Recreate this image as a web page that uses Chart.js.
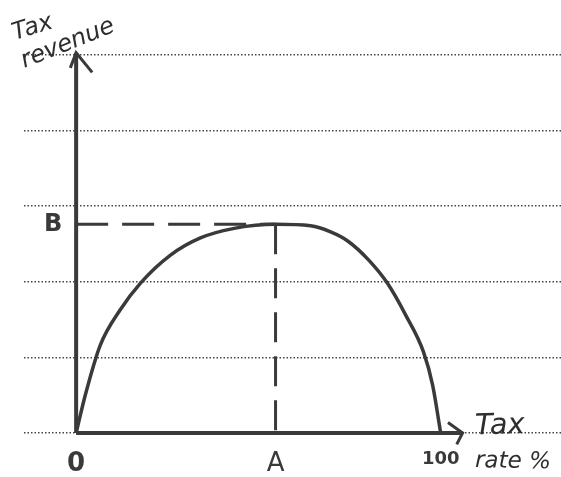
<!DOCTYPE html>
<html>
<head>
<meta charset="utf-8">
<script src="https://cdn.jsdelivr.net/npm/chart.js@4"></script>
<style>
  html, body { margin: 0; padding: 0; background: #fff; }
  canvas { display: block; }
</style>
</head>
<body>
<canvas id="laffer" width="561" height="477"></canvas>
<script>
// x = tax rate %, y = grid steps
const taxRate = [0, 2.5, 6.6, 12.1, 17.6, 25.8, 34.1, 43.7, 54.7, 64.3, 69.8, 74.5, 80.2, 85.4, 90.4, 95.3, 97.8, 100];
const revenue = [0, 0.50, 1.16, 1.63, 1.98, 2.35, 2.58, 2.71, 2.76, 2.74, 2.66, 2.54, 2.29, 1.98, 1.56, 1.07, 0.63, 0];

const rateA = 54.7;
const revenueB = 2.76;
const xTickValues = [0, rateA, 100];
const xTickLabels = ['0', 'A', '100'];
const yTickValues = [revenueB];
const yTickLabels = ['B'];

const ink = '#3a3a3a';

function pts(xs, ys) {
    return xs.map((x, i) => ({ x: x, y: ys[i] }));
}

// hand-drawn axes and arrows are ordinary line datasets
const axisY = pts([0, 0], [0, 5.03]);
const axisX = pts([0, 106], [0, 0]);
const arrowY = pts([-1.6, 0, 4.4], [4.83, 5.03, 4.77]);
const arrowX = pts([102, 106, 104.4], [0.14, 0, -0.15]);
const guideB = pts([0, rateA], [revenueB, revenueB]);
const guideA = pts([rateA, rateA], [revenueB, 0]);

function line(points, width, dash) {
    return {
        data: points,
        showLine: true,
        borderColor: ink,
        borderWidth: width,
        borderDash: dash || [],
        pointRadius: 0,
        clip: false,
        tension: 0
    };
}

// handwritten axis titles
const titles = {
    id: 'titles',
    afterDraw(chart) {
        const ctx = chart.ctx;
        const put = (txt, x, y, size, angle) => {
            ctx.save();
            ctx.translate(x, y);
            ctx.rotate(angle);
            ctx.font = 'italic ' + size + 'px "DejaVu Sans"';
            ctx.fillStyle = '#2e2e2e';
            ctx.textAlign = 'left';
            ctx.textBaseline = 'middle';
            ctx.fillText(txt, 0, 0);
            ctx.restore();
        };
        put('Tax', 13, 34, 24, -0.3);
        put('revenue', 22, 62, 24, -0.38);
        put('Tax', 475, 427, 29, -0.03);
        put('rate %', 475, 461, 23, 0.02);
    }
};

new Chart(document.getElementById('laffer'), {
    type: 'scatter',
    data: {
        datasets: [
            Object.assign(line(pts(taxRate, revenue), 3.5), { cubicInterpolationMode: 'monotone' }),
            line(axisY, 4),
            line(axisX, 4),
            line(arrowY, 3),
            line(arrowX, 3),
            line(guideB, 3, [32, 14]),
            line(guideA, 3, [30, 14])
        ]
    },
    options: {
        responsive: false,
        animation: false,
        layout: { padding: { left: 24, right: 0, top: 55, bottom: 0 } },
        plugins: { legend: { display: false }, tooltip: { enabled: false } },
        scales: {
            x: {
                type: 'linear',
                min: -14.3,
                max: 133,
                grid: { display: false },
                border: { display: false },
                afterBuildTicks(s) { s.ticks = xTickValues.map(v => ({ value: v })); },
                afterFit(s) { s.height = 44; },
                ticks: {
                    autoSkip: false,
                    maxRotation: 0,
                    padding: 8,
                    color: ink,
                    font(c) {
                        return c.index === 2
                            ? { family: '"DejaVu Sans"', size: 18, weight: 'bold' }
                            : { family: '"DejaVu Sans"', size: 26, weight: c.index === 0 ? 'bold' : 'normal' };
                    },
                    callback(v, i) { return xTickLabels[i]; }
                }
            },
            y: {
                min: 0,
                max: 5,
                afterFit(s) { s.width = 0; },
                ticks: { stepSize: 1, display: false },
                border: { display: false, dash: [1.5, 2] },
                grid: {
                    color: '#444',
                    lineWidth: 1.5,
                    drawTicks: false
                }
            },
            y2: {
                position: 'left',
                min: 0,
                max: 5,
                grid: { display: false },
                border: { display: false },
                afterBuildTicks(s) { s.ticks = yTickValues.map(v => ({ value: v })); },
                afterFit(s) { s.width = 0; },
                ticks: {
                    mirror: true,
                    padding: 20,
                    color: ink,
                    font: { family: '"DejaVu Sans"', size: 24, weight: 'bold' },
                    callback(v, i) { return yTickLabels[i]; }
                }
            }
        }
    },
    plugins: [titles]
});
</script>
</body>
</html>
